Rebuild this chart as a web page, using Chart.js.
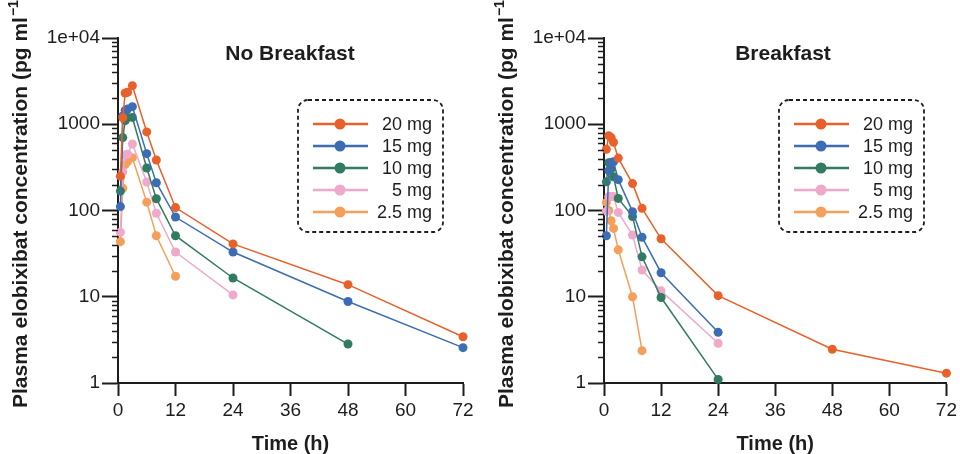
<!DOCTYPE html>
<html>
<head>
<meta charset="utf-8">
<script src="https://cdn.jsdelivr.net/npm/chart.js@4/dist/chart.umd.min.js"></script>
<style>
  html, body { margin: 0; padding: 0; background: #fff; }
  #wrap { position: relative; width: 960px; height: 454px; overflow: hidden; }
  canvas { position: absolute; top: 0; }
</style>
</head>
<body>
<div id="wrap">
  <canvas id="noBreakfast" width="480" height="454" style="left:0"></canvas>
  <canvas id="breakfast" width="474" height="454" style="left:486px"></canvas>
</div>
<script>
// sampling times (h)
const times = [0.5, 1, 1.5, 2, 3, 6, 8, 12, 24, 48, 72];
const doses = ["20 mg", "15 mg", "10 mg", "5 mg", "2.5 mg"];
const doseColors = ["#E8612A", "#3C6DB4", "#327A62", "#EEA9CB", "#F4A05A"];

const xTicks = [0, 12, 24, 36, 48, 60, 72];
const yTicks = [1, 10, 100, 1000, 10000];

// No Breakfast, pg/ml (null = not sampled / below LLOQ)
const nb20 = [250, 1190, 2300, 2350, 2800, 815, 385, 108, 41, 13.8, 3.44];
const nb15 = [111, 1250, 1450, 1500, 1600, 456, 210, 84, 33, 8.8, 2.57];
const nb10 = [168, 700, 1100, 1200, 1200, 311, 137, 51, 16.5, 2.83, null];
const nb5 = [56, 280, 440, 450, 590, 214, 93, 33, 10.5, null, null];
const nb25 = [43.5, 181, 340, 370, 410, 125, 51, 17.3, null, null, null];

// Breakfast, pg/ml
const bf20 = [512, 737, 700, 618, 405, 205, 106, 47, 10.3, 2.46, 1.3];
const bf15 = [51, 290, 360, 368, 228, 97, 49, 19, 3.87, null, null];
const bf10 = [215, 358, 305, 246, 138, 85, 29, 9.8, 1.1, null, null];
const bf5 = [98, 145, 145, 145, 95, 52, 20.4, 11.7, 2.89, null, null];
const bf25 = [124, 100, 76, 62, 35, 10, 2.37, null, null, null, null];

const FONT = "'Liberation Sans', Arial, Helvetica, sans-serif";
const INK = "#1d1d1d";

function toPoints(values) {
    return times
        .map((t, i) => ({ x: t, y: values[i] }))
        .filter((p) => p.y !== null);
}

function makeDatasets(seriesList) {
    return seriesList.map((values, i) => ({
        label: doses[i],
        data: toPoints(values),
        borderColor: doseColors[i],
        backgroundColor: doseColors[i],
        pointBackgroundColor: doseColors[i],
        borderWidth: 1.5,
        pointRadius: 4.5,
        pointBorderWidth: 0,
        pointHoverRadius: 4.5,
        clip: false,
        order: i,
    }));
}

// minor ticks, rotated y title, panel title and dashed legend
const decorPlugin = {
    id: "decor",
    afterDraw(chart, args, opts) {
        const { ctx, chartArea } = chart;
        const y = chart.scales.y;
        ctx.save();

        // minor log ticks
        ctx.strokeStyle = INK;
        ctx.lineWidth = 1.5;
        for (let d = 1; d < 10000; d *= 10) {
            for (let m = 2; m <= 9; m++) {
                const py = Math.round(y.getPixelForValue(d * m)) + 0.5;
                ctx.beginPath();
                ctx.moveTo(chartArea.left - 6, py);
                ctx.lineTo(chartArea.left, py);
                ctx.stroke();
            }
        }

        // y axis title (runs past the top edge like the original)
        ctx.save();
        ctx.translate(21, 408);
        ctx.rotate(-Math.PI / 2);
        ctx.fillStyle = INK;
        ctx.textAlign = "left";
        ctx.textBaseline = "middle";
        ctx.font = "bold 21px " + FONT;
        const main = "Plasma elobixibat concentration (pg ml";
        ctx.fillText(main, 0, 0);
        let w = ctx.measureText(main).width;
        ctx.font = "bold 14px " + FONT;
        ctx.fillText("\u22121", w + 1, -7);
        w += ctx.measureText("\u22121").width + 2;
        ctx.font = "bold 21px " + FONT;
        ctx.fillText(")", w, 0);
        ctx.restore();

        // panel title
        ctx.fillStyle = INK;
        ctx.font = "bold 21px " + FONT;
        ctx.textAlign = "center";
        ctx.textBaseline = "middle";
        ctx.fillText(opts.title, chartArea.left + opts.titleX, 54);

        // legend box
        const bx = chartArea.left + opts.legendX;
        const by = 100;
        ctx.setLineDash([4, 3]);
        ctx.lineWidth = 1.8;
        ctx.strokeStyle = INK;
        ctx.beginPath();
        ctx.roundRect(bx, by, 145, 132, 10);
        ctx.stroke();
        ctx.setLineDash([]);

        ctx.font = "18px " + FONT;
        ctx.textAlign = "right";
        chart.data.datasets.forEach((ds, i) => {
            const ry = 124 + i * 22;
            ctx.strokeStyle = ds.borderColor;
            ctx.lineWidth = 2.5;
            ctx.beginPath();
            ctx.moveTo(bx + 15, ry);
            ctx.lineTo(bx + 70, ry);
            ctx.stroke();
            ctx.fillStyle = ds.borderColor;
            ctx.beginPath();
            ctx.arc(bx + 42, ry, 5.5, 0, Math.PI * 2);
            ctx.fill();
            ctx.fillStyle = INK;
            ctx.fillText(ds.label, bx + 134, ry + 1);
        });

        ctx.restore();
    },
};

function makeChart(id, seriesList, title, titleX, legendX, padRight) {
    const ctx = document.getElementById(id).getContext("2d");
    return new Chart(ctx, {
        type: "line",
        data: { datasets: makeDatasets(seriesList) },
        options: {
            responsive: false,
            animation: false,
            events: [],
            layout: { padding: { top: 38, right: padRight, bottom: 0, left: 0 } },
            plugins: {
                legend: { display: false },
                tooltip: { enabled: false },
                decor: { title: title, titleX: titleX, legendX: legendX },
            },
            scales: {
                x: {
                    type: "linear",
                    min: 0,
                    max: 72,
                    afterBuildTicks: (scale) => {
                        scale.ticks = xTicks.map((v) => ({ value: v }));
                    },
                    afterFit: (scale) => {
                        scale.height = 71;
                    },
                    ticks: {
                        color: INK,
                        padding: 3,
                        maxRotation: 0,
                        font: { family: FONT, size: 19 },
                    },
                    grid: {
                        drawOnChartArea: false,
                        tickLength: 13,
                        tickWidth: 2,
                        tickColor: INK,
                    },
                    border: { color: INK, width: 2 },
                    title: {
                        display: true,
                        text: "Time (h)",
                        color: INK,
                        padding: { top: 0, bottom: 0 },
                        font: { family: FONT, size: 20, weight: "bold", lineHeight: 1 },
                    },
                },
                y: {
                    type: "logarithmic",
                    min: 1,
                    max: 10000,
                    afterBuildTicks: (scale) => {
                        scale.ticks = yTicks.map((v) => ({ value: v }));
                    },
                    afterFit: (scale) => {
                        scale.width = 118;
                    },
                    ticks: {
                        color: INK,
                        padding: 2,
                        font: { family: FONT, size: 19 },
                        callback: (v) => (v === 10000 ? "1e+04" : String(v)),
                    },
                    grid: {
                        drawOnChartArea: false,
                        tickLength: 16,
                        tickWidth: 2,
                        tickColor: INK,
                    },
                    border: { color: INK, width: 2 },
                },
            },
        },
        plugins: [decorPlugin],
    });
}

makeChart("noBreakfast", [nb20, nb15, nb10, nb5, nb25], "No Breakfast", 172, 180, 17);
makeChart("breakfast", [bf20, bf15, bf10, bf5, bf25], "Breakfast", 179, 175, 12);
</script>
</body>
</html>
